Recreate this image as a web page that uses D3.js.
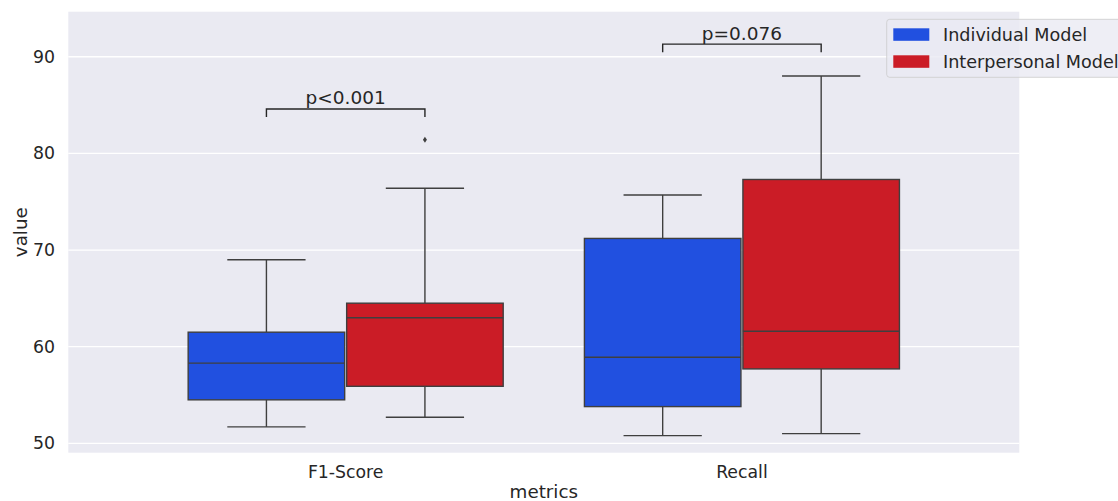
<!DOCTYPE html>
<html>
<head>
<meta charset="utf-8">
<script src="https://d3js.org/d3.v7.min.js"></script>
<style>
  body { margin: 0; background: #fff; }
  text { font-family: "DejaVu Sans", sans-serif; fill: #262626; }
</style>
</head>
<body>
<script>
// chart data
var categories = ["F1-Score", "Recall"];
var models = ["Individual Model", "Interpersonal Model"];
var colors = ["#2150e0", "#cb1c26"];

// per model: [F1-Score, Recall]
var whiskerLow  = [[51.7, 50.8], [52.7, 51.0]];
var q1          = [[54.5, 53.8], [55.9, 57.7]];
var median      = [[58.3, 58.9], [63.0, 61.6]];
var q3          = [[61.5, 71.2], [64.5, 77.3]];
var whiskerHigh = [[69.0, 75.7], [76.4, 88.0]];
var outliers = [{ cat: 0, model: 1, value: 81.4 }];

var yTicks = [50, 60, 70, 80, 90];
var pLabels = ["p<0.001", "p=0.076"];
var pHeights = [84.6, 91.3];

var width = 1118, height = 501;
var plot = { left: 68.3, right: 1019.3, top: 11.7, bottom: 452.7 };

var svg = d3.select("body").append("svg")
    .attr("width", width)
    .attr("height", height);

var x = d3.scaleLinear().domain([-0.7, 1.7]).range([plot.left, plot.right]);
var y = d3.scaleLinear().domain([49.03, 94.66]).range([plot.bottom, plot.top]);

var boxW = 0.395, offs = [-0.2, 0.2];
var lineCol = "#3f3f3f";

// background
svg.append("rect")
    .attr("x", plot.left).attr("y", plot.top)
    .attr("width", plot.right - plot.left).attr("height", plot.bottom - plot.top)
    .attr("fill", "#eaeaf2");

// grid
svg.selectAll("line.grid").data(yTicks).enter().append("line")
    .attr("class", "grid")
    .attr("x1", plot.left).attr("x2", plot.right)
    .attr("y1", function (d) { return y(d); })
    .attr("y2", function (d) { return y(d); })
    .attr("stroke", "#fff").attr("stroke-width", 1.3);

// y tick labels
svg.selectAll("text.ytick").data(yTicks).enter().append("text")
    .attr("x", 55).attr("y", function (d) { return y(d) + 6; })
    .attr("text-anchor", "end").style("font-size", "17.3px")
    .text(function (d) { return d; });

// x tick labels
svg.selectAll("text.xtick").data(categories).enter().append("text")
    .attr("x", function (d, i) { return x(i); }).attr("y", 478)
    .attr("text-anchor", "middle").style("font-size", "17.3px")
    .text(function (d) { return d; });

svg.append("text")
    .attr("x", (plot.left + plot.right) / 2).attr("y", 498)
    .attr("text-anchor", "middle").style("font-size", "18.3px")
    .text("metrics");

svg.append("text")
    .attr("transform", "translate(27," + ((plot.top + plot.bottom) / 2) + ") rotate(-90)")
    .attr("text-anchor", "middle").style("font-size", "18.3px")
    .text("value");

// boxes
models.forEach(function (m, mi) {
  categories.forEach(function (c, ci) {
    var cx = x(ci + offs[mi]);
    var hw = (x(boxW) - x(0)) / 2;
    var g = svg.append("g");
    // whiskers
    g.append("line").attr("x1", cx).attr("x2", cx)
        .attr("y1", y(whiskerHigh[mi][ci])).attr("y2", y(q3[mi][ci]))
        .attr("stroke", lineCol).attr("stroke-width", 1.4);
    g.append("line").attr("x1", cx).attr("x2", cx)
        .attr("y1", y(q1[mi][ci])).attr("y2", y(whiskerLow[mi][ci]))
        .attr("stroke", lineCol).attr("stroke-width", 1.4);
    [whiskerHigh[mi][ci], whiskerLow[mi][ci]].forEach(function (v) {
      g.append("line").attr("x1", cx - hw / 2).attr("x2", cx + hw / 2)
          .attr("y1", y(v)).attr("y2", y(v))
          .attr("stroke", lineCol).attr("stroke-width", 1.4);
    });
    g.append("rect")
        .attr("x", cx - hw).attr("width", 2 * hw)
        .attr("y", y(q3[mi][ci])).attr("height", y(q1[mi][ci]) - y(q3[mi][ci]))
        .attr("fill", colors[mi]).attr("stroke", lineCol).attr("stroke-width", 1.4);
    g.append("line").attr("x1", cx - hw).attr("x2", cx + hw)
        .attr("y1", y(median[mi][ci])).attr("y2", y(median[mi][ci]))
        .attr("stroke", lineCol).attr("stroke-width", 1.4);
  });
});

// outliers (thin diamond)
svg.selectAll("path.flier").data(outliers).enter().append("path")
    .attr("d", function (d) {
      var cx = x(d.cat + offs[d.model]), cy = y(d.value);
      return "M" + cx + "," + (cy - 3) + "L" + (cx + 2) + "," + cy +
             "L" + cx + "," + (cy + 3) + "L" + (cx - 2) + "," + cy + "Z";
    })
    .attr("fill", lineCol);

// significance brackets
categories.forEach(function (c, ci) {
  var x1 = x(ci + offs[0]), x2 = x(ci + offs[1]);
  var yy = y(pHeights[ci]);
  svg.append("path")
      .attr("d", "M" + x1 + "," + (yy + 8) + "V" + yy + "H" + x2 + "V" + (yy + 8))
      .attr("fill", "none").attr("stroke", "#262626").attr("stroke-width", 1.4);
  svg.append("text")
      .attr("x", x(ci)).attr("y", yy - 4.5)
      .attr("text-anchor", "middle").style("font-size", "18.5px")
      .text(pLabels[ci]);
});

// legend
var lg = svg.append("g");
lg.append("rect")
    .attr("x", 886.7).attr("y", 19.3).attr("width", 260).attr("height", 58)
    .attr("rx", 3)
    .attr("fill", "rgba(234,234,242,0.8)").attr("stroke", "rgba(204,204,204,0.8)");
models.forEach(function (m, i) {
  lg.append("rect")
      .attr("x", 893.3).attr("y", 28.3 + i * 27).attr("width", 36).attr("height", 12.5)
      .attr("fill", colors[i]);
  lg.append("text")
      .attr("x", 943).attr("y", 40.5 + i * 27)
      .style("font-size", "17.6px")
      .text(m);
});
</script>
</body>
</html>
